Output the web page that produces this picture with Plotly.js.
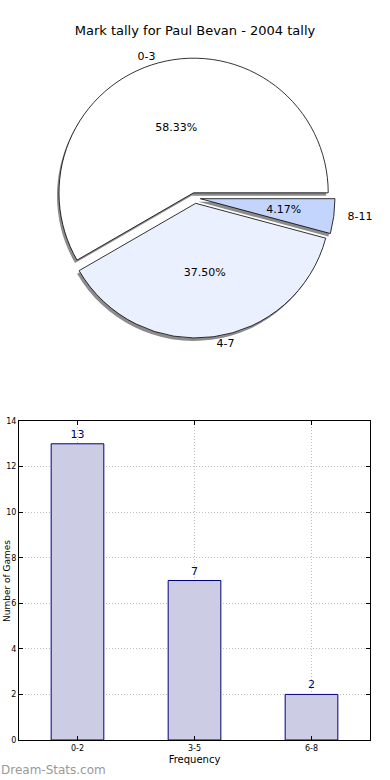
<!DOCTYPE html>
<html>
<head>
<meta charset="utf-8">
<script src="https://cdn.plot.ly/plotly-3.0.1.min.js"></script>
<style>html,body{margin:0;padding:0;background:#fff;}#chart{width:390px;height:780px;}</style>
</head>
<body>
<div id="chart"></div>
<script>
// Pie data: mark tally ranges (games)
const pieLabels = ["0-3", "4-7", "8-11"];
const pieValues = [14, 9, 1];
const pieColors = ["#ffffff", "#eaf0fe", "#c3d5fc"];

// Bar data: frequency bins
const barCategories = ["0-2", "3-5", "6-8"];
const barValues = [13, 7, 2];

const chartTitle = "Mark tally for Paul Bevan - 2004 tally";
const xTitle = "Frequency";
const yTitle = "Number of Games";
const watermark = "Dream-Stats.com";

const W = 390, H = 780;
const px = v => v / W;
const py = v => 1 - v / H;

const pull = [0.04, 0.04, 0.04];
const pieRotation = -120;
const pieCx = 195, pieCy = 198, pieHalf = 140;
const dom = (cx, cy, h) => ({x: [px(cx - h), px(cx + h)], y: [py(cy + h), py(cy - h)]});
const pieDom = dom(pieCx, pieCy, pieHalf);
const shadowDom = dom(pieCx - 2, pieCy + 3, pieHalf);
const smallTextDom = dom(pieCx, pieCy, pieHalf * 0.72);

const font = "DejaVu Sans, sans-serif";

const pieBase = {
  type: "pie", labels: pieLabels, values: pieValues, sort: false,
  direction: "counterclockwise", rotation: pieRotation, pull: pull, showlegend: false
};
const clear = pieLabels.map(() => "rgba(0,0,0,0)");

const traces = [
  Object.assign({}, pieBase, {
    domain: shadowDom,
    marker: {colors: pieLabels.map(() => "#8c8c8c"), line: {width: 0}},
    textinfo: "none", hoverinfo: "skip"
  }),
  Object.assign({}, pieBase, {
    domain: pieDom,
    marker: {colors: pieColors, line: {color: "#000000", width: 0.8}},
    texttemplate: ["%{percent:.2%}", "%{percent:.2%}", ""], textposition: "inside", insidetextorientation: "horizontal",
    textfont: {family: font, size: 11, color: "#000"}
  }),
  Object.assign({}, pieBase, {
    domain: smallTextDom,
    marker: {colors: clear, line: {width: 0}},
    texttemplate: ["", "", "%{percent:.2%}"], textposition: "inside", insidetextorientation: "horizontal",
    textfont: {family: font, size: 11, color: "#000"},
    hoverinfo: "skip"
  }),
  Object.assign({}, pieBase, {
    domain: pieDom,
    marker: {colors: clear, line: {width: 0}},
    texttemplate: ["%{label}", "%{label}", "\u00a0\u00a0\u00a0%{label}"], textposition: "outside",
    textfont: {family: font, size: 11, color: "#000"},
    hoverinfo: "skip"
  }),
  {
    type: "bar", x: barCategories, y: barValues, width: 0.45,
    marker: {color: "#ccccE4", line: {color: "#000080", width: 1}},
    texttemplate: "%{y}", textposition: "outside", cliponaxis: false,
    textfont: {family: font, size: 11, color: "#000080"},
    xaxis: "x", yaxis: "y", showlegend: false
  }
];

const gridStyle = {showgrid: true, gridcolor: "#c0c0c0", griddash: "1px,2px", gridwidth: 1};

const layout = {
  width: W, height: H,
  margin: {l: 0, r: 0, t: 0, b: 0},
  paper_bgcolor: "#fff", plot_bgcolor: "#fff",
  font: {family: font, color: "#000"},
  uniformtext: {minsize: 11, mode: "show"},
  title: {text: chartTitle, font: {family: font, size: 13, color: "#000"}, x: 0.5, xanchor: "center", y: py(30), yanchor: "middle"},
  xaxis: Object.assign({
    domain: [px(19), px(370)], anchor: "y",
    range: [-0.5, 2.5], type: "category",
    showline: true, linecolor: "#000", linewidth: 1, mirror: "ticks",
    ticks: "inside", ticklen: 4, tickcolor: "#000",
    tickfont: {family: font, size: 8}, zeroline: false,
    title: {text: xTitle, font: {family: font, size: 10}, standoff: 4}
  }, gridStyle),
  yaxis: Object.assign({
    domain: [py(740), py(421)], anchor: "x",
    range: [0, 14], dtick: 2,
    showline: true, linecolor: "#000", linewidth: 1, mirror: "ticks",
    ticks: "inside", ticklen: 4, tickcolor: "#000",
    tickfont: {family: font, size: 8}, zeroline: false
  }, gridStyle),
  annotations: [
    {
      text: yTitle, xref: "paper", yref: "paper", x: px(0), y: py(581),
      xanchor: "left", yanchor: "middle", textangle: -90, showarrow: false,
      font: {family: font, size: 9, color: "#000"}
    },
    {
      text: watermark, xref: "paper", yref: "paper", x: px(-1), y: py(770),
      xanchor: "left", yanchor: "middle", showarrow: false,
      font: {family: font, size: 12, color: "#999999"}
    }
  ]
};

Plotly.newPlot("chart", traces, layout, {displayModeBar: false, staticPlot: true});
</script>
</body>
</html>
